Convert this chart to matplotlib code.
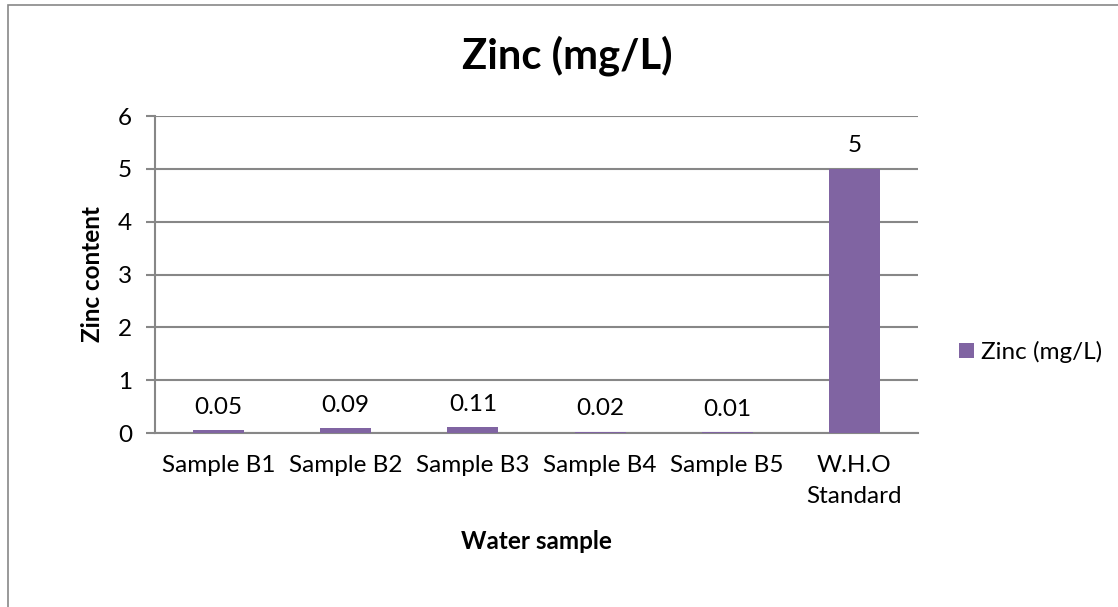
import matplotlib
matplotlib.use("Agg")
import matplotlib.pyplot as plt
from matplotlib.patches import Rectangle

categories = ["Sample B1", "Sample B2", "Sample B3", "Sample B4", "Sample B5", "W.H.O\nStandard"]
values = [0.05, 0.09, 0.11, 0.02, 0.01, 5]
labels = ["0.05", "0.09", "0.11", "0.02", "0.01", "5"]
yticks = [0, 1, 2, 3, 4, 5, 6]
series_name = "Zinc (mg/L)"

plt.rcParams['font.family'] = ['Lato', 'DejaVu Sans']

W, H = 1118, 607
fig = plt.figure(figsize=(W / 100, H / 100), dpi=100)
ax = fig.add_axes([155 / W, 1 - 433 / H, (918 - 155) / W, (433 - 116) / H])

gray = "#878787"
purple = "#8064A2"
fs = 17.5

x = list(range(len(categories)))
ax.bar(x, values, width=0.4, color=purple, zorder=3, label=series_name)
ax.set_xlim(-0.5, len(categories) - 0.5)
ax.set_ylim(0, 6)
ax.set_yticks(yticks)
ax.set_yticklabels([str(t) for t in yticks], fontsize=fs)
ax.set_xticks(x)
ax.set_xticklabels(categories, fontsize=fs, linespacing=1.55)
ax.tick_params(axis='x', length=0, pad=16)
ax.tick_params(axis='y', length=6.5, color=gray, width=1.5, pad=10)
ax.grid(axis='y', color=gray, linewidth=1.5, zorder=0)
for s in ['top', 'right']:
    ax.spines[s].set_visible(False)
for s in ['left', 'bottom']:
    ax.spines[s].set_color(gray)
    ax.spines[s].set_linewidth(1.5)

for xi, v, lab in zip(x, values, labels):
    ax.annotate(lab, (xi, v), xytext=(0, 12), textcoords='offset points',
                ha='center', va='baseline', fontsize=fs)

ax.set_xlabel("Water sample", fontsize=fs, fontweight='bold', labelpad=17)
ax.set_ylabel("Zinc content", fontsize=fs, fontweight='bold', labelpad=10)
fig.text(567 / W, 1 - 69 / H, "Zinc (mg/L)", fontsize=30, fontweight='bold',
         ha='center', va='baseline')

ax.legend(loc='center left', bbox_to_anchor=(959 / W, 1 - 352 / H),
          bbox_transform=fig.transFigure, frameon=False, borderpad=0,
          borderaxespad=0, fontsize=fs, handlelength=0.62, handleheight=0.62,
          handletextpad=0.3)

fig.patches.append(Rectangle((8 / W, -0.1), 2, 1.1 - 5 / H, transform=fig.transFigure,
                             fill=False, edgecolor=gray, linewidth=1.2))

fig.savefig("out.png", dpi=100)
